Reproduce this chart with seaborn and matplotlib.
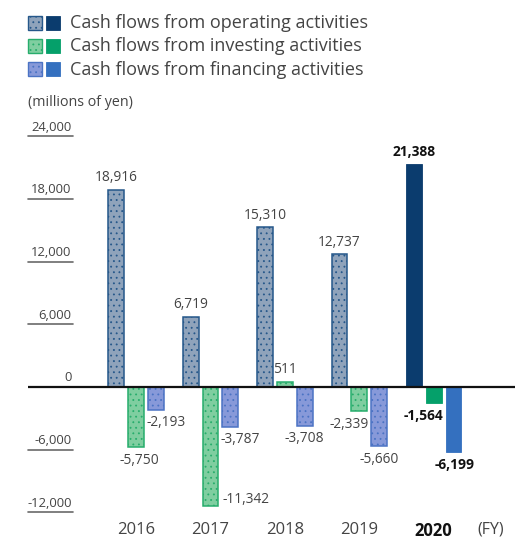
import matplotlib
matplotlib.use("Agg")
import matplotlib.pyplot as plt
from matplotlib.patches import Rectangle
import numpy as np
import pandas as pd
import seaborn as sns

# Cash flow figures, millions of yen
years = ["2016", "2017", "2018", "2019", "2020"]
operating = [18916, 6719, 15310, 12737, 21388]
investing = [-5750, -11342, 511, -2339, -1564]
financing = [-2193, -3787, -3708, -5660, -6199]
series_names = [
    "Cash flows from operating activities",
    "Cash flows from investing activities",
    "Cash flows from financing activities",
]
y_ticks = [24000, 18000, 12000, 6000, 0, -6000, -12000]

# colours: (past-year fill, past-year edge, current-year solid)
palette = [
    ("#8fa3bb", "#25578a", "#0b3c6e"),
    ("#7fcea0", "#27ad6c", "#05a06a"),
    ("#8799d9", "#4b73c4", "#3470bf"),
]
TEXT = "#444444"
DOTS = "..."

# per-label nudges in pixels (dx, dy) to keep labels clear of neighbours
label_nudge = {
    (0, 1): (3, 0), (0, 2): (10, 0),
    (1, 2): (10, 0),
    (3, 1): (-10, 0),
    (4, 1): (-10, 0), (4, 2): (1, 0),
}

sns.set_theme(style="white")
plt.rcParams["font.family"] = ["Open Sans", "DejaVu Sans"]
plt.rcParams["hatch.linewidth"] = 0.6

W, H, DPI = 525, 540, 100
fig = plt.figure(figsize=(W / DPI, H / DPI), dpi=DPI)
ax = fig.add_axes([28 / W, (540 - 517.6) / H, 487 / W, (517.6 - 126) / H])

df = pd.DataFrame({
    "year": np.repeat(years, 3),
    "series": series_names * len(years),
    "value": np.ravel(np.column_stack([operating, investing, financing])),
})

sns.barplot(data=df, x="year", y="value", hue="series", order=years,
            hue_order=series_names, width=0.8, gap=0.2, legend=False,
            ax=ax, errorbar=None)

slot = 0.8 / 3
values = [operating, investing, financing]
last = len(years) - 1
for p in ax.patches:
    cx = p.get_x() + p.get_width() / 2
    g = int(round(cx))
    k = int(round((cx - g) / slot)) + 1
    fill, edge, solid = palette[k]
    if g == last:
        p.set_facecolor(solid)
        p.set_edgecolor(solid)
        p.set_hatch(None)
        p.set_linewidth(0.6)
    else:
        p.set_facecolor(fill)
        p.set_edgecolor(edge)
        p.set_hatch(DOTS)
        p.set_linewidth(1.1)
    p.set_zorder(2)

ax.set_xlim(-1.453, 5.093)
ax.set_ylim(-12500, 25000)
ax.set_xlabel("")
ax.set_ylabel("")
for s in ax.spines.values():
    s.set_visible(False)
ax.set_yticks([])
ax.tick_params(axis="x", length=0, pad=3, labelsize=12, colors=TEXT)
ax.set_xticks(range(len(years)))
ax.set_xticklabels(years)
tl = ax.get_xticklabels()
tl[-1].set_fontweight("bold")
tl[-1].set_color("#111111")
ax.annotate("(FY)", xy=(4.76, 0), xycoords=("data", "axes fraction"),
            xytext=(0, -3), textcoords="offset points", ha="center",
            va="top", fontsize=11.5, color=TEXT)

# zero line
ax.axhline(0, color="#111111", lw=1.6, zorder=3)

# y tick labels with short underline
ytr = ax.get_yaxis_transform()
ux = 45 / 487
for v in y_ticks:
    if v != 0:
        ax.plot([0, ux], [v, v], transform=ytr, color="#6a6a6a", lw=1.2,
                clip_on=False, zorder=3)
    ax.annotate(f"{v:,}", xy=(ux, v), xycoords=ytr, xytext=(-1, 2),
                textcoords="offset points", ha="right", va="bottom",
                fontsize=9.4, color=TEXT)

fig.text(28 / W, 1 - 103 / H, "(millions of yen)", fontsize=10.3,
         color=TEXT, ha="left", va="center")

# value labels
px = 72 / DPI
for k, vals in enumerate(values):
    for g, v in enumerate(vals):
        x = g + (k - 1) * slot
        bold = g == last
        color = "#111111" if bold else TEXT
        dx, dy = label_nudge.get((g, k), (0, 0))
        if (g, k) == (1, 1):
            ax.annotate(f"{v:,}", xy=(x + slot * 0.4, v), xytext=(4 * px, 6 * px),
                        textcoords="offset points", ha="left", va="center",
                        fontsize=9.9, color=color)
            continue
        off = 12 if v > 0 else -13
        ax.annotate(f"{v:,}", xy=(x, v), xytext=(dx * px, (off + dy) * px),
                    textcoords="offset points", ha="center", va="center",
                    fontsize=9.9, color=color,
                    fontweight="bold" if bold else "normal")

# legend: patterned swatch for past years, solid swatch for current year
sw = 14
for i, (name, (fill, edge, solid)) in enumerate(zip(series_names, palette)):
    yc = 22.5 + i * 23.5
    y0 = 1 - (yc + sw / 2) / H
    fig.add_artist(Rectangle((28 / W, y0), sw / W, sw / H, transform=fig.transFigure,
                             facecolor=fill, edgecolor=edge, hatch=DOTS, lw=1.0))
    fig.add_artist(Rectangle((46 / W, y0), sw / W, sw / H, transform=fig.transFigure,
                             facecolor=solid, edgecolor=solid, lw=0.6))
    fig.text(70 / W, 1 - yc / H, name, fontsize=13, color=TEXT,
             ha="left", va="center")

fig.savefig("out.png", dpi=DPI)
